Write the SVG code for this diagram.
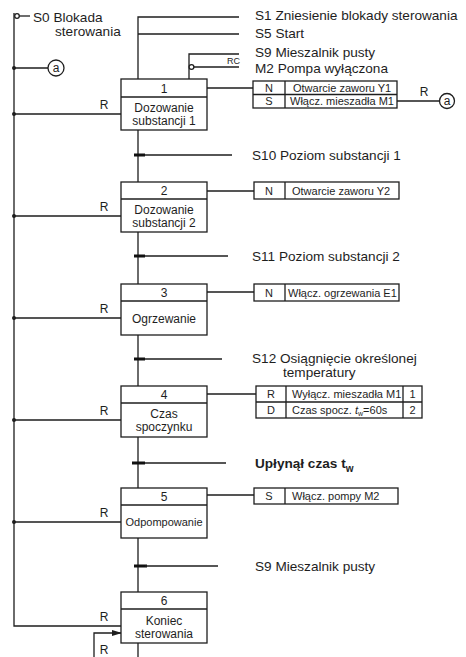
<svg xmlns="http://www.w3.org/2000/svg" width="466" height="657" viewBox="0 0 466 657">
<style>
  .ln{stroke:#1e1e1e;stroke-width:1.3;fill:none}
  .bx{stroke:#1e1e1e;stroke-width:1.3;fill:#fff}
  .bar{fill:#111}
  .dot{fill:#1e1e1e}
  text{font-family:"Liberation Sans",Arial,sans-serif;fill:#1e1e1e}
  .lbl{font-size:13.6px}
  .st{font-size:12px;text-anchor:middle}
  .ac{font-size:11px}
  .acc{font-size:11px;text-anchor:middle}
  .r{font-size:12px;text-anchor:middle}
</style>
<defs>
  <marker id="arr" markerWidth="10" markerHeight="8" refX="9" refY="4" orient="auto" markerUnits="userSpaceOnUse">
    <path d="M0,1 L10,4 L0,7 Z" fill="#1e1e1e"/>
  </marker>
</defs>
<rect width="466" height="657" fill="#fff"/>

<g id="connectors">
  <!-- left reset bar -->
  <path class="ln" d="M14,13 V626 H121"/>
  <circle cx="17" cy="16" r="2.3" class="bx"/>
  <path class="ln" d="M19.3,16 H30"/>
  <circle class="dot" cx="14" cy="68" r="2"/>
  <circle class="dot" cx="14" cy="114" r="2"/>
  <circle class="dot" cx="14" cy="216" r="2"/>
  <circle class="dot" cx="14" cy="318" r="2"/>
  <circle class="dot" cx="14" cy="420" r="2"/>
  <circle class="dot" cx="14" cy="522" r="2"/>
  <path class="ln" d="M14,68 H48"/>
  <path class="ln" d="M14,114 H121 M14,216 H121 M14,318 H121 M14,420 H121 M14,522 H121"/>
  <!-- top inputs -->
  <path class="ln" d="M138,79 V17 H239 M138,34 H239"/>
  <path class="ln" d="M189,79 V54 H239"/>
  <circle cx="191.5" cy="67" r="2.4" class="bx"/>
  <path class="ln" d="M193.9,67 H239"/>
  <!-- main flow -->
  <path class="ln" d="M138,130 V182 M138,232 V284 M138,335 V386 M138,437 V488 M138,538 V592 M138,643 V657"/>
  <!-- transitions -->
  <rect class="bar" x="134" y="153.5" width="11" height="3"/>
  <path class="ln" d="M145,155 H232"/>
  <rect class="bar" x="134" y="254.5" width="11" height="3"/>
  <path class="ln" d="M145,256 H228"/>
  <rect class="bar" x="134" y="357.5" width="11" height="3"/>
  <path class="ln" d="M145,359 H222"/>
  <rect class="bar" x="132" y="461.5" width="13" height="3"/>
  <path class="ln" d="M145,463 H226"/>
  <rect class="bar" x="134" y="564.5" width="13" height="3"/>
  <path class="ln" d="M145,566 H218"/>
  <!-- action connectors -->
  <path class="ln" d="M207,88 H253 M207,191 H254 M207,292 H254 M207,394 H256 M207,495 H254"/>
  <path class="ln" d="M397,101 H439.5"/>
  <!-- loop -->
  <path class="ln" d="M94,657 V633 H121" marker-end="url(#arr)"/>
</g>

<g id="labels">
  <text class="lbl" x="33" y="22">S0 Blokada</text>
  <text class="lbl" x="55" y="36">sterowania</text>
  <text class="lbl" x="255" y="20">S1 Zniesienie blokady sterowania</text>
  <text class="lbl" x="255" y="38">S5 Start</text>
  <text class="lbl" x="255" y="57">S9 Mieszalnik pusty</text>
  <text class="lbl" x="255" y="73">M2 Pompa wyłączona</text>
  <text x="227" y="64" style="font-size:9px">RC</text>
  <text class="lbl" x="252" y="160">S10 Poziom substancji 1</text>
  <text class="lbl" x="252" y="261">S11 Poziom substancji 2</text>
  <text class="lbl" x="252" y="363">S12 Osiągnięcie określonej</text>
  <text class="lbl" x="283" y="377">temperatury</text>
  <text class="lbl" x="255" y="468" style="font-weight:bold">Upłynął czas t<tspan dy="4" style="font-size:10px">w</tspan></text>
  <text class="lbl" x="255" y="571">S9 Mieszalnik pusty</text>
  <text class="r" x="104" y="109">R</text>
  <text class="r" x="104" y="211">R</text>
  <text class="r" x="104" y="313">R</text>
  <text class="r" x="104" y="415">R</text>
  <text class="r" x="104" y="517">R</text>
  <text class="r" x="104" y="621">R</text>
  <text class="r" x="104" y="654">R</text>
  <text class="r" x="424" y="96">R</text>
</g>

<g id="ref-a-left">
  <circle class="bx" cx="56" cy="68" r="8"/>
  <text x="56" y="72" style="font-size:12px;text-anchor:middle">a</text>
</g>
<g id="ref-a-right">
  <circle class="bx" cx="447" cy="101" r="7.5"/>
  <text x="447" y="105" style="font-size:12px;text-anchor:middle">a</text>
</g>

<g id="step1">
  <rect class="bx" x="121" y="79" width="86" height="51"/>
  <path class="ln" d="M121,97 H207"/>
  <text class="st" x="164" y="93">1</text>
  <text class="st" x="164" y="112">Dozowanie</text>
  <text class="st" x="164" y="125">substancji 1</text>
</g>
<g id="action1">
  <rect class="bx" x="253" y="81" width="144" height="27"/>
  <path class="ln" d="M285,81 V108 M253,94.5 H397"/>
  <text class="acc" x="269" y="92">N</text>
  <text class="ac" x="293" y="92">Otwarcie zaworu Y1</text>
  <text class="acc" x="269" y="105">S</text>
  <text class="ac" x="290" y="105">Włącz. mieszadła M1</text>
</g>

<g id="step2">
  <rect class="bx" x="121" y="182" width="86" height="50"/>
  <path class="ln" d="M121,199 H207"/>
  <text class="st" x="164" y="195">2</text>
  <text class="st" x="164" y="214">Dozowanie</text>
  <text class="st" x="164" y="227">substancji 2</text>
</g>
<g id="action2">
  <rect class="bx" x="254" y="182" width="145" height="17"/>
  <path class="ln" d="M285,182 V199"/>
  <text class="acc" x="269" y="194.5">N</text>
  <text class="ac" x="292" y="194.5">Otwarcie zaworu Y2</text>
</g>

<g id="step3">
  <rect class="bx" x="121" y="284" width="86" height="51"/>
  <path class="ln" d="M121,301 H207"/>
  <text class="st" x="164" y="297">3</text>
  <text class="st" x="164" y="323">Ogrzewanie</text>
</g>
<g id="action3">
  <rect class="bx" x="254" y="284" width="145" height="17"/>
  <path class="ln" d="M285,284 V301"/>
  <text class="acc" x="269" y="296.5">N</text>
  <text class="ac" x="288" y="296.5">Włącz. ogrzewania E1</text>
</g>

<g id="step4">
  <rect class="bx" x="121" y="386" width="86" height="51"/>
  <path class="ln" d="M121,403 H207"/>
  <text class="st" x="164" y="399">4</text>
  <text class="st" x="164" y="418">Czas</text>
  <text class="st" x="164" y="431">spoczynku</text>
</g>
<g id="action4">
  <rect class="bx" x="256" y="386" width="166" height="32"/>
  <path class="ln" d="M286,386 V418 M403,386 V418 M256,402 H422"/>
  <text class="acc" x="271" y="398">R</text>
  <text class="ac" x="292" y="398">Wyłącz. mieszadła M1</text>
  <text class="acc" x="412.5" y="398">1</text>
  <text class="acc" x="271" y="414">D</text>
  <text class="ac" x="292" y="414">Czas spocz. <tspan font-style="italic">t</tspan><tspan dy="2" style="font-size:7px">w</tspan><tspan dy="-2">=60s</tspan></text>
  <text class="acc" x="412.5" y="414">2</text>
</g>

<g id="step5">
  <rect class="bx" x="121" y="488" width="86" height="50"/>
  <path class="ln" d="M121,505 H207"/>
  <text class="st" x="164" y="501">5</text>
  <text class="st" x="164" y="526" style="font-size:11px">Odpompowanie</text>
</g>
<g id="action5">
  <rect class="bx" x="254" y="488" width="144" height="16"/>
  <path class="ln" d="M285,488 V504"/>
  <text class="acc" x="269" y="500">S</text>
  <text class="ac" x="292" y="500">Włącz. pompy M2</text>
</g>

<g id="step6">
  <rect class="bx" x="121" y="592" width="86" height="51"/>
  <path class="ln" d="M121,609 H207"/>
  <text class="st" x="164" y="605">6</text>
  <text class="st" x="164" y="625">Koniec</text>
  <text class="st" x="164" y="638">sterowania</text>
</g>
</svg>
